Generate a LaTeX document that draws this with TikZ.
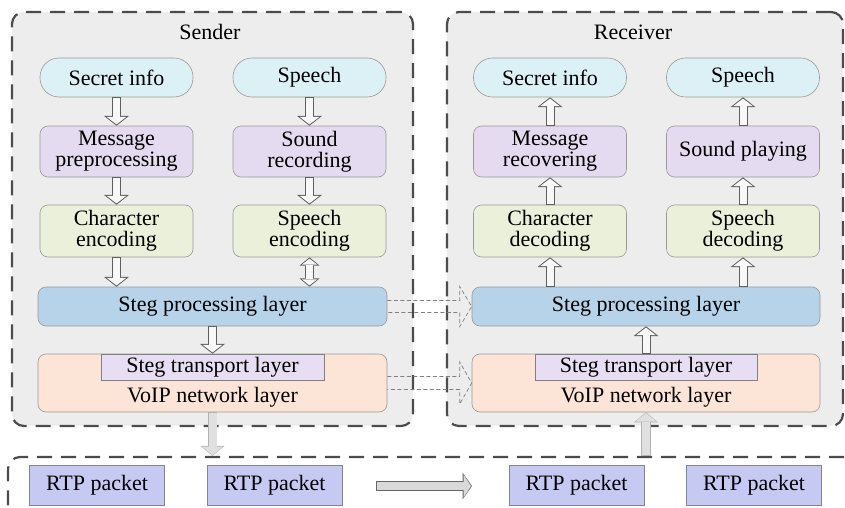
\documentclass[tikz,border=0pt]{standalone}
\usepackage{fontspec}
\setmainfont{Liberation Serif}
\usetikzlibrary{arrows.meta,calc}
\definecolor{pillc}{RGB}{220,241,246}
\definecolor{procc}{RGB}{228,219,240}
\definecolor{codec}{RGB}{235,240,219}
\definecolor{stegc}{RGB}{183,211,234}
\definecolor{voipc}{RGB}{252,229,214}
\definecolor{tranc}{RGB}{232,222,243}
\definecolor{rtpc}{RGB}{198,202,243}
\definecolor{arrout}{RGB}{95,95,95}
\definecolor{arrin}{RGB}{248,248,248}
\tikzset{
  box/.style={draw=black!40, line width=0.6pt, rounded corners=8pt, minimum width=153pt, minimum height=51pt, align=center, inner sep=0pt},
  pill/.style={box, rounded corners=19pt, minimum height=39pt, fill=pillc},
  proc/.style={box, fill=procc},
  code/.style={box, fill=codec, minimum height=52pt},
  layer/.style={box, minimum width=349pt},
  side/.style={draw=black!70, line width=2.2pt, dash pattern=on 15pt off 9pt, rounded corners=12pt, inner sep=0pt},
  tran/.style={draw=black!50, line width=0.6pt, fill=tranc, minimum width=223pt, minimum height=26pt, inner sep=0pt},
  rtp/.style={draw=black!35!rtpc, line width=0.6pt, fill=rtpc, minimum width=135pt, minimum height=40pt, inner sep=0pt},
  blk/.style={color=arrin, line width=7pt, shorten <=1pt, shorten >=1.3pt, -{Triangle[length=7.5pt,width=19.5pt,line width=0pt]}, preaction={draw, color=arrout, line width=9pt, shorten <=0pt, shorten >=0pt, -{Triangle[length=9.8pt,width=25pt,line width=0pt]}}},
  blkboth/.style={color=arrin, line width=7pt, shorten <=1.3pt, shorten >=1.3pt, {Triangle[length=6pt,width=15pt,line width=0pt]}-{Triangle[length=6pt,width=15pt,line width=0pt]}, preaction={draw, color=arrout, line width=9pt, shorten <=0pt, shorten >=0pt, {Triangle[length=8.3pt,width=20pt,line width=0pt]}-{Triangle[length=8.3pt,width=20pt,line width=0pt]}}},
  lightblk/.style={color=black!12, line width=8pt, shorten <=0.6pt, shorten >=0.8pt, -{Triangle[length=8.5pt,width=21pt,line width=0pt]}, preaction={draw, color=black!30, line width=9.2pt, shorten <=0pt, shorten >=0pt, -{Triangle[length=10pt,width=24pt,line width=0pt]}}},
  bigarr/.style={color=black!15, line width=8.6pt, shorten <=0.8pt, shorten >=1pt, -{Triangle[length=7.5pt,width=23pt,line width=0pt]}, preaction={draw, color=black!60, line width=10.2pt, shorten <=0pt, shorten >=0pt, -{Triangle[length=9.5pt,width=27pt,line width=0pt]}}},
  dasharr/.style={draw=black!50, line width=0.7pt, dash pattern=on 4pt off 2.5pt}
}
\begin{document}
\begin{tikzpicture}[x=1pt,y=-1pt,font=\fontsize{22}{21}\selectfont]
\useasboundingbox (0,0) rectangle (845,508);
\node[side, fill=black!7, minimum width=401pt, minimum height=414pt] (sendbox) at (212.5,219) {};
\node[side, fill=black!7, minimum width=396pt, minimum height=414pt] (recvbox) at (645,219) {};
\node[side, minimum width=872pt, minimum height=88pt] (chan) at (444,501) {};
\node (sendlbl) at (210,32) {Sender};
\node (recvlbl) at (633,32) {Receiver};
\node[pill] (secS) at (116.5,77.5) {Secret info};
\node[pill] (speechS) at (309.5,77.5) {Speech};
\node[proc] (msgS) at (116.5,151.5) {Message\\preprocessing};
\node[proc] (soundS) at (309.5,151.5) {Sound\\recording};
\node[code] (charS) at (116.5,231) {Character\\encoding};
\node[code] (spencS) at (309.5,231) {Speech\\encoding};
\node[layer, fill=stegc, minimum height=39pt] (stegS) at (212.5,306.5) {Steg processing layer};
\node[layer, fill=voipc, minimum height=58pt] (voipS) at (212.5,383) {};
\node[tran] (stegtS) at (212.5,367) {Steg transport layer};
\node (voipSt) at (212.5,397) {VoIP network layer};
\node[pill] (secR) at (550,77.5) {Secret info};
\node[pill] (speechR) at (743,77.5) {Speech};
\node[proc] (msgR) at (550,151.5) {Message\\recovering};
\node[proc] (playR) at (743,151.5) {Sound playing};
\node[code] (charR) at (550,231) {Character\\decoding};
\node[code] (spdecR) at (743,231) {Speech\\decoding};
\node[layer, fill=stegc, minimum width=348pt, minimum height=39pt] (stegR) at (646,306.5) {Steg processing layer};
\node[layer, fill=voipc, minimum width=348pt, minimum height=58pt] (voipR) at (646,383) {};
\node[tran, minimum width=222pt] (stegtR) at (646,367) {Steg transport layer};
\node (voipRt) at (646,397) {VoIP network layer};
\node[rtp] (rtp1) at (97,485) {RTP packet};
\node[rtp] (rtp2) at (274.5,485) {RTP packet};
\node[rtp] (rtp3) at (576.5,485) {RTP packet};
\node[rtp] (rtp4) at (754,485) {RTP packet};
\draw[blk] (secS) -- (msgS);
\draw[blk] (speechS) -- (soundS);
\draw[blk] (msgS) -- (charS);
\draw[blk] (soundS) -- (spencS);
\draw[blk] (charS.south) -- (charS.south |- stegS.north);
\draw[blkboth] (spencS.south) -- (spencS.south |- stegS.north);
\draw[blk] (stegS) -- (stegtS);
\draw[blk] (msgR) -- (secR);
\draw[blk] (playR) -- (speechR);
\draw[blk] (charR) -- (msgR);
\draw[blk] (spdecR) -- (playR);
\draw[blk] (charR.south |- stegR.north) -- (charR.south);
\draw[blk] (spdecR.south |- stegR.north) -- (spdecR.south);
\draw[blk] (stegtR) -- (stegR);
\draw[lightblk] (voipS.south) -- (voipS.south |- chan.north);
\draw[lightblk] (voipR.south |- chan.north) -- (voipR.south);
\draw[dasharr] ($(stegS.east)+(0,-6)$) -- ($(stegR.west)+(-12,-6)$) -- ++(0,-14) -- (stegR.west) -- ++(-12,20) -- ++(0,-14) -- ($(stegS.east)+(0,6)$);
\draw[dasharr] ($(voipS.east)+(0,-6.5)$) -- ($(voipR.west)+(-12,-6.5)$) -- ++(0,-14.5) -- (voipR.west) -- ++(-12,21) -- ++(0,-14.5) -- ($(voipS.east)+(0,6.5)$);
\coordinate (flowA) at (376,486);
\coordinate (flowB) at (472,486);
\draw[bigarr] (flowA) -- (flowB);
\end{tikzpicture}
\end{document}
